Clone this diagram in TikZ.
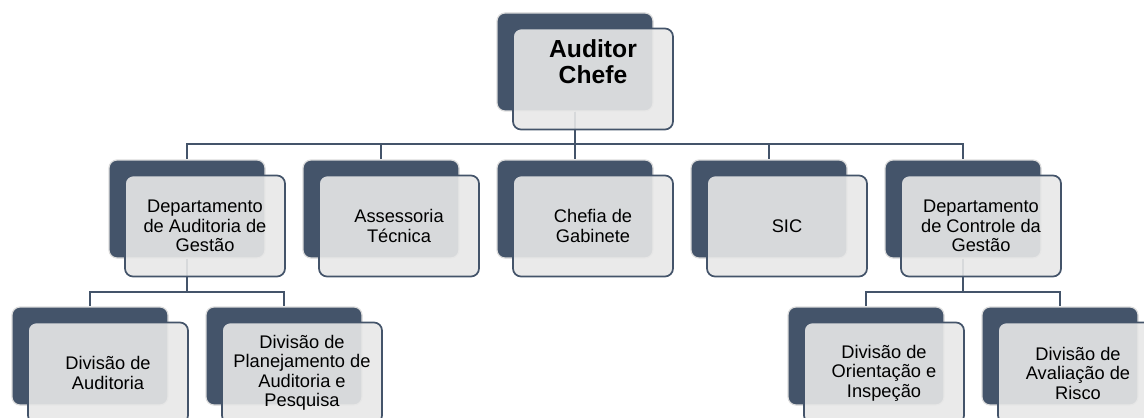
\documentclass[tikz,border=0pt]{standalone}
\usepackage{fontspec}
\setmainfont{Liberation Sans}
\usetikzlibrary{positioning}
\definecolor{orgDark}{HTML}{44546A}
\definecolor{orgPale}{HTML}{E8E8E8}
\definecolor{orgRim}{HTML}{DCDCDC}
\tikzset{
  org back/.style={
    draw=orgRim,
    line width=.9pt,
    fill=orgDark,
    rounded corners=6pt,
    minimum width=117pt,
    minimum height=73.5pt,
    inner sep=0pt
  },
  org front/.style={
    draw=orgDark,
    line width=1.3pt,
    fill=orgPale,
    fill opacity=.9,
    text opacity=1,
    rounded corners=6pt,
    minimum width=120pt,
    minimum height=75.75pt,
    inner sep=2pt,
    align=center,
    font=\fontsize{13.7}{14.6}\selectfont
  },
  org link/.style={draw=orgDark, line width=1.6pt},
  org title/.style={font=\bfseries\fontsize{18.5}{19.5}\selectfont, align=center}
}

\begin{document}
\begin{tikzpicture}[x=.75pt,y=-.75pt]
  \useasboundingbox (0,0) rectangle (1144,417);
  \clip (0,0) rectangle (1144,417);

  % dark back plates
  \node[org back] (chiefB) at (575,62) {};
  \node[org back] (dagB) at (187,209) {};
  \node[org back] (asstecB) at (381,209) {};
  \node[org back] (chefgabB) at (575,209) {};
  \node[org back] (sicB) at (769,209) {};
  \node[org back] (dcgB) at (963,209) {};
  \node[org back] (divaudB) at (90,356) {};
  \node[org back] (divplanB) at (284,356) {};
  \node[org back] (divoriB) at (866,356) {};
  \node[org back] (divavalB) at (1060,356) {};

  % tree links
  \foreach \kid in {dagB,asstecB,chefgabB,sicB,dcgB}
    \draw[org link] (chiefB.south) -- ++(0,32) -| (\kid.north);
  \foreach \kid in {divaudB,divplanB}
    \draw[org link] (dagB.south) -- ++(0,33) -| (\kid.north);
  \foreach \kid in {divoriB,divavalB}
    \draw[org link] (dcgB.south) -- ++(0,33) -| (\kid.north);

  % pale front cards
  \node[org front] (chief) at ([shift={(18,17)}]chiefB.center) {};
  \node[org title] (chief title) at (chief.center |- chiefB.center) {Auditor\\Chefe};
  \node[org front] (dag) at ([shift={(18,17)}]dagB.center) {Departamento\\de Auditoria de\\Gestão};
  \node[org front] (asstec) at ([shift={(18,17)}]asstecB.center) {Assessoria\\Técnica};
  \node[org front] (chefgab) at ([shift={(18,17)}]chefgabB.center) {Chefia de\\Gabinete};
  \node[org front] (sic) at ([shift={(18,17)}]sicB.center) {SIC};
  \node[org front] (dcg) at ([shift={(18,17)}]dcgB.center) {Departamento\\de Controle da\\Gestão};
  \node[org front] (divaud) at ([shift={(18,17)}]divaudB.center) {Divisão de\\Auditoria};
  \node[org front] (divplan) at ([shift={(18,17)}]divplanB.center) {Divisão de\\Planejamento de\\Auditoria e\\Pesquisa};
  \node[org front] (divori) at ([shift={(18,17)}]divoriB.center) {Divisão de\\Orientação e\\Inspeção};
  \node[org front] (divaval) at ([shift={(18,17)}]divavalB.center) {Divisão de\\Avaliação de\\Risco};
\end{tikzpicture}
\end{document}
